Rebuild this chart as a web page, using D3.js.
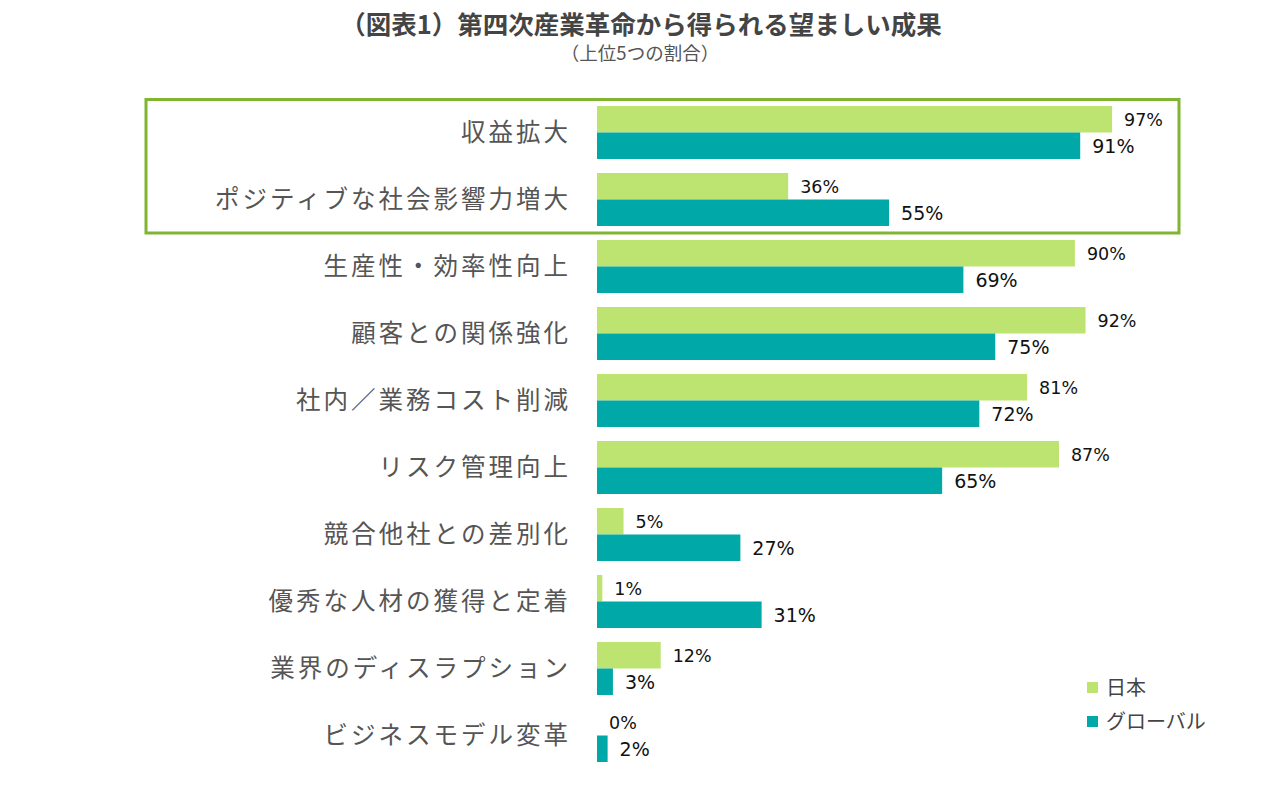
<!DOCTYPE html>
<html><head><meta charset="utf-8">
<script src="https://cdn.jsdelivr.net/npm/d3@7"></script>
<style>
html,body{margin:0;padding:0;background:#fff;}
svg{display:block;}
</style>
</head><body>
<script>
const categories = ["収益拡大","ポジティブな社会影響力増大","生産性・効率性向上","顧客との関係強化","社内／業務コスト削減","リスク管理向上","競合他社との差別化","優秀な人材の獲得と定着","業界のディスラプション","ビジネスモデル変革"];
const seriesNames = ["日本","グローバル"];
const japanValues = [97,36,90,92,81,87,5,1,12,0];
const globalValues = [91,55,69,75,72,65,27,31,3,2];
const colors = ["#BDE371","#00A9A8"];

const W = 1280, H = 808;
const svg = d3.select("body").append("svg").attr("width", W).attr("height", H);
const cjk = "'Noto Sans CJK JP','Noto Sans',sans-serif";
const num = "Verdana,'DejaVu Sans',sans-serif";

// Title
svg.append("text").attr("x", 641).attr("y", 34).attr("text-anchor","middle")
  .attr("font-family", cjk).attr("font-weight", 700).attr("font-size", 25.5).attr("fill", "#444")
  .text("（図表1）第四次産業革命から得られる望ましい成果");
svg.append("text").attr("x", 640).attr("y", 60).attr("text-anchor","middle")
  .attr("font-family", cjk).attr("font-size", 18.5).attr("fill", "#555")
  .text("（上位5つの割合）");

const x = d3.scaleLinear().domain([0, 100]).range([597, 1128]);
const y = d3.scaleBand().domain(categories).range([99, 769]).paddingInner(14/67).paddingOuter(7/67);
const ys = d3.scaleBand().domain(seriesNames).range([0, y.bandwidth()]);

const rows = categories.map((c, i) => ({cat: c, vals: [japanValues[i], globalValues[i]]}));

const g = svg.append("g");
const rowG = g.selectAll("g.row").data(rows).join("g").attr("class","row")
  .attr("transform", d => `translate(0,${y(d.cat)})`);

rowG.selectAll("rect").data(d => d.vals.map((v, k) => ({v, k})))
  .join("rect")
  .attr("x", x(0))
  .attr("y", d => ys(seriesNames[d.k]))
  .attr("width", d => x(d.v) - x(0))
  .attr("height", ys.bandwidth())
  .attr("fill", d => colors[d.k]);

rowG.selectAll("text.val").data(d => d.vals.map((v, k) => ({v, k})))
  .join("text").attr("class","val")
  .attr("x", d => x(d.v) + 12)
  .attr("y", d => ys(seriesNames[d.k]) + ys.bandwidth()/2)
  .attr("dy", "0.36em")
  .attr("font-family", num)
  .attr("font-size", d => d.k === 0 ? 17.5 : 19)
  .attr("fill", "#111")
  .text(d => d.v + "%");

// Category axis labels
const yAxis = d3.axisLeft(y).tickSize(0).tickPadding(0);
const ax = svg.append("g").attr("transform", `translate(568,0)`).call(yAxis);
ax.select(".domain").remove();
ax.selectAll("text")
  .attr("font-family", cjk).attr("font-size", 24.5).attr("fill", "#555")
  .attr("letter-spacing", "3px").attr("dy", "0.35em").attr("dx", 3);

// Highlight box
svg.append("rect").attr("x", 146).attr("y", 99.5)
  .attr("width", 1179-146).attr("height", 233-99.5)
  .attr("fill", "none").attr("stroke", "#80B532").attr("stroke-width", 3);

// Legend
const leg = svg.append("g");
seriesNames.forEach((s, i) => {
  const yy = 688 + i * 34;
  leg.append("rect").attr("x", 1087).attr("y", yy - 6).attr("width", 11).attr("height", 11).attr("fill", colors[i]);
  leg.append("text").attr("x", 1106).attr("y", yy).attr("dy", "0.36em")
    .attr("font-family", cjk).attr("font-size", 20).attr("fill", "#444").text(s);
});
</script>
</body></html>
